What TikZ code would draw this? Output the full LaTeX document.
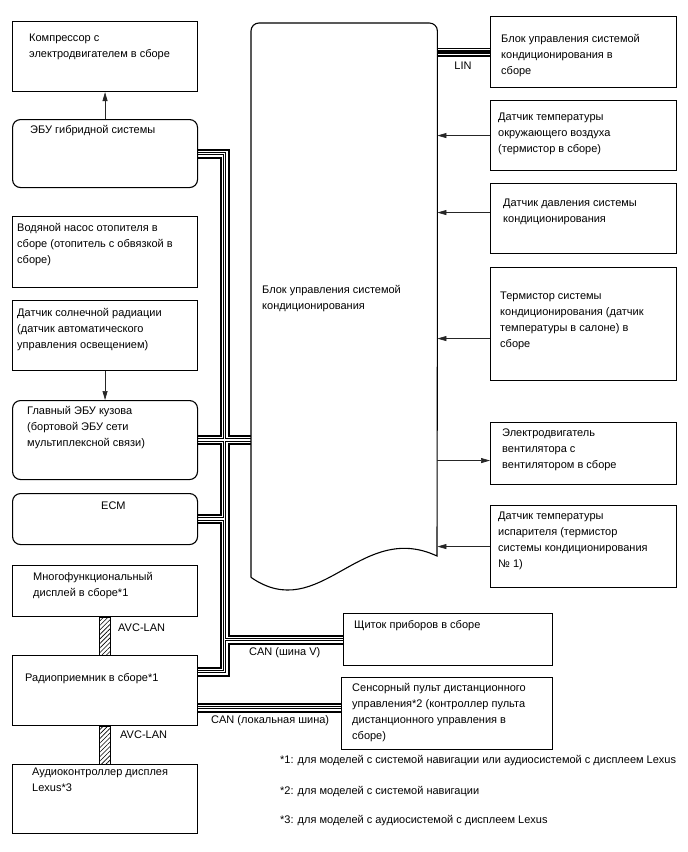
\documentclass[tikz,border=0pt]{standalone}
\usepackage{fontspec}
\setmainfont{Liberation Sans}
\usetikzlibrary{arrows.meta,patterns.meta,backgrounds,calc}
\begin{document}
\begin{tikzpicture}[x=1pt,y=-1pt,
  box/.style={draw, line width=1.1pt, inner sep=0, anchor=north west},
  rbox/.style={box, rounded corners=8pt},
  txt/.style={anchor=north west, inner sep=0, align=left, font=\fontsize{11}{16}\selectfont},
  lbl/.style={inner sep=0, font=\fontsize{11}{16}\selectfont},
  arr/.style={-{Triangle[length=9pt,width=5pt]}, line width=0.7pt, black!85},
  bus/.style={line width=3.2pt, preaction={draw, black, line width=10pt}, preaction={draw, white, line width=6pt}, postaction={draw, white, line width=1.6pt}},
  linbus/.style={line width=3.4pt, preaction={draw, black, line width=9pt}, preaction={draw, white, line width=6pt}},
  hatch/.style={draw, line width=0.8pt, pattern={Lines[angle=45, distance=3.2pt, line width=0.6pt]}},
]
\begin{scope}[on background layer]
\fill[white] (0,0) rectangle (688,852);
\end{scope}
\useasboundingbox (0,0) rectangle (688,852);

% left column
\node[box, minimum width=185, minimum height=70] (comp) at (12,21) {};
\node[rbox, minimum width=185, minimum height=68] (ebu) at (12,119) {};
\node[box, minimum width=185, minimum height=71] (water) at (12,216) {};
\node[box, minimum width=185, minimum height=70] (sun) at (12,300) {};
\node[rbox, minimum width=185, minimum height=79] (glav) at (12,400) {};
\node[rbox, minimum width=185, minimum height=51] (ecm) at (12,493) {};
\node[box, minimum width=185, minimum height=51] (mf) at (12,565) {};
\node[box, minimum width=185, minimum height=70] (radio) at (12,655) {};
\node[box, minimum width=185, minimum height=69] (audio) at (12,764) {};

% central block
\node[inner sep=0, minimum width=186, minimum height=554, anchor=north west] (cb) at (251,23) {};
\draw[line width=1.1pt] (cb.south west) {[rounded corners=8pt] -- (cb.north west) -- (cb.north east) -- (cb.east)}
  -- (437,556) .. controls (360,520) and (320,625) .. (cb.south west);

% right column
\node[box, minimum width=186, minimum height=71] (r1) at (490,16) {};
\node[box, minimum width=186, minimum height=70] (r2) at (490,100) {};
\node[box, minimum width=186, minimum height=70] (r3) at (490,183) {};
\node[box, minimum width=186, minimum height=113] (r4) at (490,267) {};
\node[box, minimum width=186, minimum height=62] (r5) at (490,422) {};
\node[box, minimum width=186, minimum height=82] (r6) at (490,505) {};

% middle bottom
\node[box, minimum width=209, minimum height=52] (m1) at (343,613) {};
\node[box, minimum width=211, minimum height=72] (m2) at (341,677) {};

% texts
\node[txt] (tcomp) at (29,34) {Компрессор с\\электродвигателем в сборе};
\node[txt] (tebu) at (30,125) {ЭБУ гибридной системы};
\node[txt] (twater) at (17,223) {Водяной насос отопителя в\\сборе (отопитель с обвязкой в\\сборе)};
\node[txt] (tsun) at (17,308) {Датчик солнечной радиации\\(датчик автоматического\\управления освещением)};
\node[txt] (tglav) at (27,406) {Главный ЭБУ кузова\\(бортовой ЭБУ сети\\мультиплексной связи)};
\node[txt] (tecm) at (101,502) {ECM};
\node[txt] (tmf) at (33,572) {Многофункциональный\\дисплей в сборе*1};
\node[txt] (tradio) at (25,673) {Радиоприемник в сборе*1};
\node[txt] (taudio) at (32,768) {Аудиоконтроллер дисплея\\Lexus*3};
\node[txt] (tcb) at (262,285) {Блок управления системой\\кондиционирования};
\node[txt] (tr1) at (501,34) {Блок управления системой\\кондиционирования в\\сборе};
\node[txt] (tr2) at (498,113) {Датчик температуры\\окружающего воздуха\\(термистор в сборе)};
\node[txt] (tr3) at (503,199) {Датчик давления системы\\кондиционирования};
\node[txt] (tr4) at (500,292) {Термистор системы\\кондиционирования (датчик\\температуры в салоне) в\\сборе};
\node[txt] (tr5) at (502,429) {Электродвигатель\\вентилятора с\\вентилятором в сборе};
\node[txt] (tr6) at (498,512) {Датчик температуры\\испарителя (термистор\\системы кондиционирования\\№ 1)};
\node[txt] (tm1) at (354,620) {Щиток приборов в сборе};
\node[txt] (tm2) at (352,683) {Сенсорный пульт дистанционного\\управления*2 (контроллер пульта\\дистанционного управления в\\сборе)};

\node[lbl] (llin) at (463,66) {LIN};
\node[lbl, anchor=west] (lcanv) at (249,653) {CAN (шина V)};
\node[lbl, anchor=west] (lcanl) at (211,721) {CAN (локальная шина)};
\node[lbl, anchor=west] (lavc1) at (118,628) {AVC-LAN};
\node[lbl, anchor=west] (lavc2) at (120,735) {AVC-LAN};

\node[txt] (f1) at (280,755) {*1: для моделей с системой навигации или аудиосистемой с дисплеем Lexus};
\node[txt] (f2) at (280,786) {*2: для моделей с системой навигации};
\node[txt] (f3) at (280,815) {*3: для моделей с аудиосистемой с дисплеем Lexus};

% buses
\coordinate (tr) at (224.5,0);
\begin{scope}[on background layer]
\draw[bus] (ebu.east) -- (ebu.east -| tr) -- ([yshift=19pt]radio.east -| tr) -- ([yshift=19pt]radio.east)
  (glav.east) -- (glav.east -| cb.west)
  (ecm.east) -- (ecm.east -| tr)
  (m1.west -| tr) -- (m1.west);
\draw[bus] ([yshift=-17pt]radio.east) -- ([yshift=-17pt]radio.east -| m2.west);
\draw[linbus] (r1.west -| cb.east) -- (r1.west);
\end{scope}

% AVC-LAN
\draw[hatch] ([xshift=-5.5pt]mf.south) rectangle ([xshift=5.5pt]radio.north);
\draw[hatch] ([xshift=-5.5pt]radio.south) rectangle ([xshift=5.5pt]audio.north);

% arrows
\draw[arr] (ebu.north) -- (comp.south);
\draw[arr] (sun.south) -- (glav.north);
\draw[arr] (r2.west) -- (r2.west -| cb.east);
\draw[arr] ([yshift=6pt]r3.west) -- ([yshift=6pt]r3.west -| cb.east);
\draw[arr] ([yshift=-14.5pt]r4.west) -- ([yshift=-14.5pt]r4.west -| cb.east);
\draw[arr] ([yshift=-7pt]r5.west -| cb.east) -- ([yshift=-7pt]r5.west);
\draw[arr] (r6.west) -- (r6.west -| cb.east);
\end{tikzpicture}
\end{document}
